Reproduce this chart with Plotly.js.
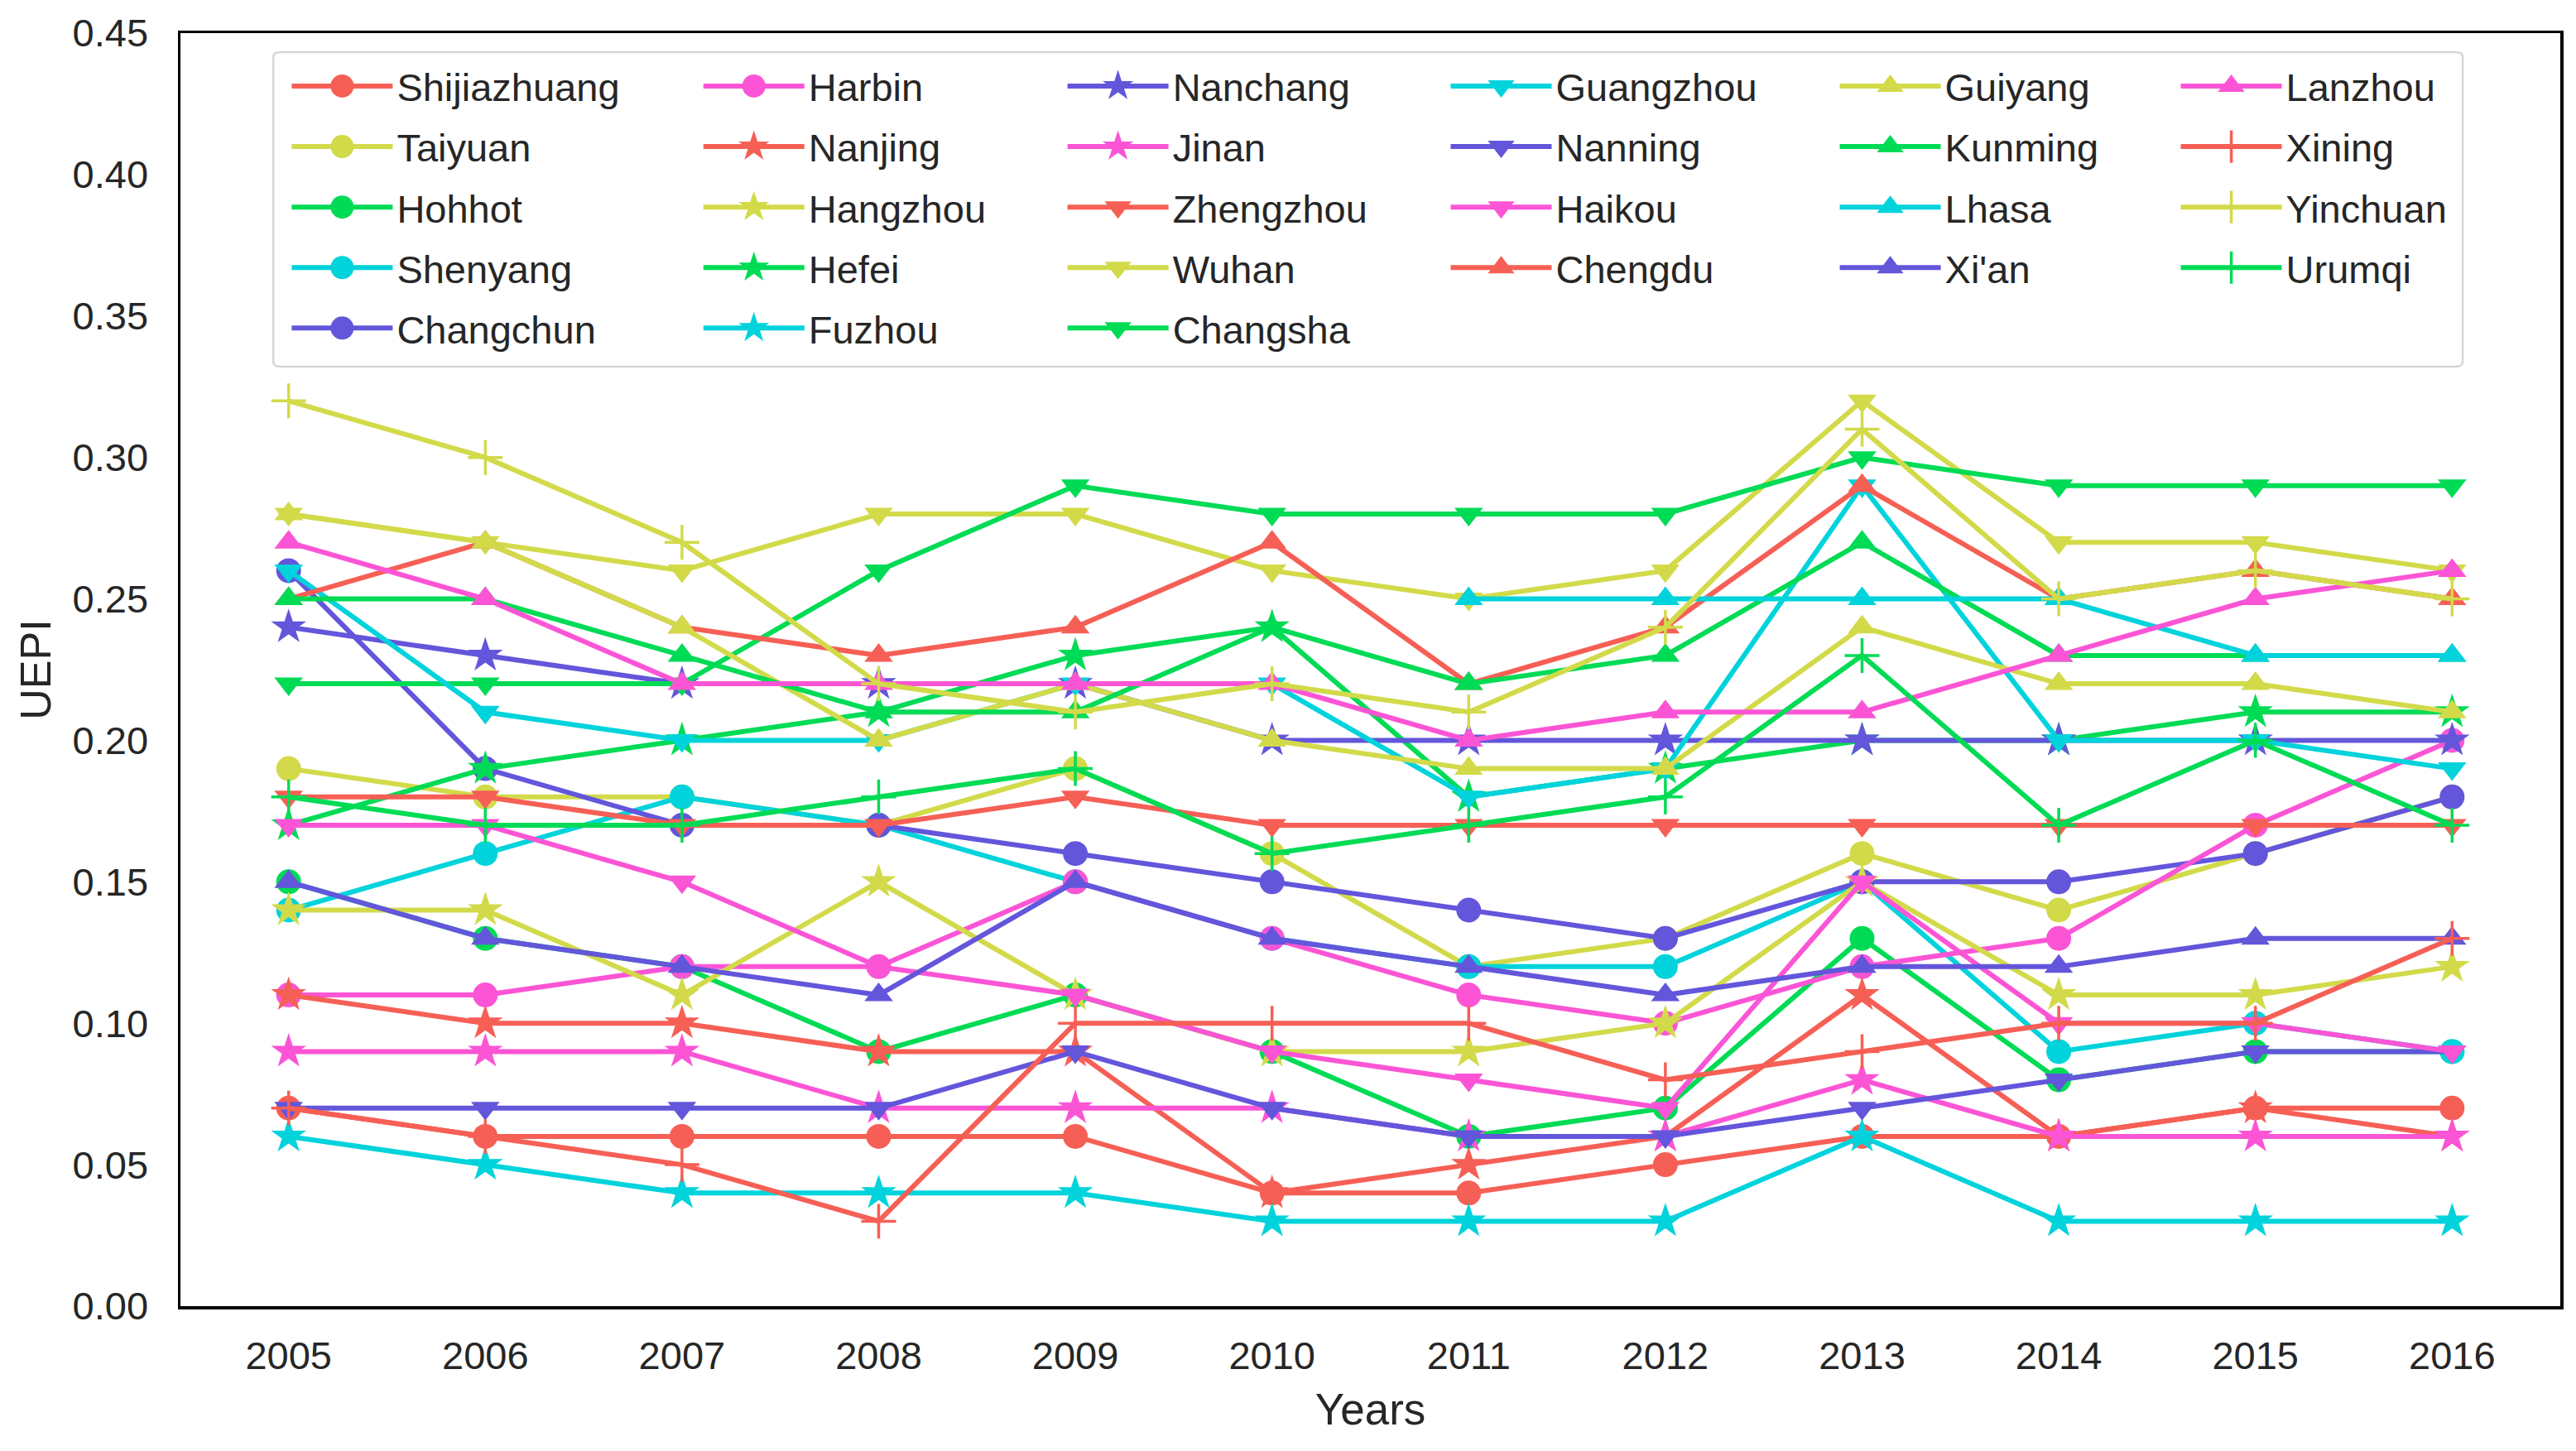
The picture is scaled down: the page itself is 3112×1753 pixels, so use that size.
<!DOCTYPE html>
<html>
<head>
<meta charset="utf-8">
<script src="https://cdn.plot.ly/plotly-3.0.1.min.js"></script>
<style>
  html, body { margin: 0; padding: 0; background: #ffffff; }
  #chart { width: 3112px; height: 1753px; }
</style>
</head>
<body>
<div id="chart"></div>
<script>
// ---- data ----
const years = [2005, 2006, 2007, 2008, 2009, 2010, 2011, 2012, 2013, 2014, 2015, 2016];

const Shijiazhuang = [0.07, 0.06, 0.06, 0.06, 0.06, 0.04, 0.04, 0.05, 0.06, 0.06, 0.07, 0.07];
const Taiyuan      = [0.19, 0.18, 0.18, 0.17, 0.19, 0.16, 0.12, 0.13, 0.16, 0.14, 0.16, 0.18];
const Hohhot       = [0.15, 0.13, 0.12, 0.09, 0.11, 0.09, 0.06, 0.07, 0.13, 0.08, 0.09, 0.09];
const Shenyang     = [0.14, 0.16, 0.18, 0.17, 0.15, 0.13, 0.12, 0.12, 0.15, 0.09, 0.10, 0.09];
const Changchun    = [0.26, 0.19, 0.17, 0.17, 0.16, 0.15, 0.14, 0.13, 0.15, 0.15, 0.16, 0.18];
const Harbin       = [0.11, 0.11, 0.12, 0.12, 0.15, 0.13, 0.11, 0.10, 0.12, 0.13, 0.17, 0.20];
const Nanjing      = [0.11, 0.10, 0.10, 0.09, 0.09, 0.04, 0.05, 0.06, 0.11, 0.06, 0.07, 0.06];
const Hangzhou     = [0.14, 0.14, 0.11, 0.15, 0.11, 0.09, 0.09, 0.10, 0.15, 0.11, 0.11, 0.12];
const Hefei        = [0.17, 0.19, 0.20, 0.21, 0.23, 0.24, 0.18, 0.19, 0.20, 0.20, 0.21, 0.21];
const Fuzhou       = [0.06, 0.05, 0.04, 0.04, 0.04, 0.03, 0.03, 0.03, 0.06, 0.03, 0.03, 0.03];
const Nanchang     = [0.24, 0.23, 0.22, 0.22, 0.22, 0.20, 0.20, 0.20, 0.20, 0.20, 0.20, 0.20];
const Jinan        = [0.09, 0.09, 0.09, 0.07, 0.07, 0.07, 0.06, 0.06, 0.08, 0.06, 0.06, 0.06];
const Zhengzhou    = [0.18, 0.18, 0.17, 0.17, 0.18, 0.17, 0.17, 0.17, 0.17, 0.17, 0.17, 0.17];
const Wuhan        = [0.28, 0.27, 0.26, 0.28, 0.28, 0.26, 0.25, 0.26, 0.32, 0.27, 0.27, 0.26];
const Changsha     = [0.22, 0.22, 0.22, 0.26, 0.29, 0.28, 0.28, 0.28, 0.30, 0.29, 0.29, 0.29];
const Guangzhou    = [0.26, 0.21, 0.20, 0.20, 0.22, 0.22, 0.18, 0.19, 0.29, 0.20, 0.20, 0.19];
const Nanning      = [0.07, 0.07, 0.07, 0.07, 0.09, 0.07, 0.06, 0.06, 0.07, 0.08, 0.09, 0.09];
const Haikou       = [0.17, 0.17, 0.15, 0.12, 0.11, 0.09, 0.08, 0.07, 0.15, 0.10, 0.10, 0.09];
const Chengdu      = [0.25, 0.27, 0.24, 0.23, 0.24, 0.27, 0.22, 0.24, 0.29, 0.25, 0.26, 0.25];
const Guiyang      = [0.28, 0.27, 0.24, 0.20, 0.22, 0.20, 0.19, 0.19, 0.24, 0.22, 0.22, 0.21];
const Kunming      = [0.25, 0.25, 0.23, 0.21, 0.21, 0.24, 0.22, 0.23, 0.27, 0.23, 0.23, 0.23];
const Lhasa        = [null, null, null, null, null, null, 0.25, 0.25, 0.25, 0.25, 0.23, 0.23];
const Xian         = [0.15, 0.13, 0.12, 0.11, 0.15, 0.13, 0.12, 0.11, 0.12, 0.12, 0.13, 0.13];
const Lanzhou      = [0.27, 0.25, 0.22, 0.22, 0.22, 0.22, 0.20, 0.21, 0.21, 0.23, 0.25, 0.26];
const Xining       = [0.07, 0.06, 0.05, 0.03, 0.10, 0.10, 0.10, 0.08, 0.09, 0.10, 0.10, 0.13];
const Yinchuan     = [0.32, 0.30, 0.27, 0.22, 0.21, 0.22, 0.21, 0.24, 0.31, 0.25, 0.26, 0.25];
const Urumqi       = [0.18, 0.17, 0.17, 0.18, 0.19, 0.16, 0.17, 0.18, 0.23, 0.17, 0.20, 0.17];

const cityNames = ["Shijiazhuang", "Taiyuan", "Hohhot", "Shenyang", "Changchun", "Harbin",
  "Nanjing", "Hangzhou", "Hefei", "Fuzhou", "Nanchang", "Jinan",
  "Zhengzhou", "Wuhan", "Changsha", "Guangzhou", "Nanning", "Haikou",
  "Chengdu", "Guiyang", "Kunming", "Lhasa", "Xi'an", "Lanzhou",
  "Xining", "Yinchuan", "Urumqi"];
const cityValues = [Shijiazhuang, Taiyuan, Hohhot, Shenyang, Changchun, Harbin,
  Nanjing, Hangzhou, Hefei, Fuzhou, Nanchang, Jinan,
  Zhengzhou, Wuhan, Changsha, Guangzhou, Nanning, Haikou,
  Chengdu, Guiyang, Kunming, Lhasa, Xian, Lanzhou,
  Xining, Yinchuan, Urumqi];

const yTicks = [0.00, 0.05, 0.10, 0.15, 0.20, 0.25, 0.30, 0.35, 0.40, 0.45];

// ---- styles ----
const palette = ["#f65f55", "#d2da4a", "#00db55", "#00d3db", "#6356db", "#fb55d6"];
const symbols = ["circle", "star", "triangle-down", "triangle-up", "cross-thin"];
const symSize = {"circle": 30, "star": 32, "triangle-down": 30, "triangle-up": 30, "cross-thin": 30};
const textColor = "#262626";
const FONT = "Liberation Sans, Arial, Helvetica, sans-serif";

// legend columns (matplotlib fills column by column, 5 rows)
const legendCols = 6, legendRows = 5;
const colStarts = [0.0450, 0.2180, 0.3710, 0.5320, 0.6955, 0.8388];

const traces = cityNames.map(function (name, i) {
  const col = Math.floor(i / legendRows) < 3 ? Math.floor(i / legendRows)
              : 3 + Math.floor((i - 15) / 4);
  const sym = symbols[Math.floor(i / 6)];
  const color = palette[i % 6];
  const isCross = sym === "cross-thin";
  return {
    type: "scatter",
    mode: "lines+markers",
    x: years,
    y: cityValues[i],
    name: name,
    connectgaps: false,
    legend: col === 0 ? "legend" : "legend" + (col + 1),
    legendgroup: "g" + i,
    line: {color: color, width: 6},
    marker: {
      symbol: sym,
      size: symSize[sym],
      color: color,
      line: isCross ? {color: color, width: 3.5} : {width: 0}
    },
    hoverinfo: "x+y+name"
  };
});

const layout = {
  width: 3112,
  height: 1753,
  paper_bgcolor: "#ffffff",
  plot_bgcolor: "#ffffff",
  margin: {l: 218, r: 19, t: 40, b: 175},
  font: {family: FONT, size: 47, color: textColor},
  showlegend: true,
  xaxis: {
    range: [2004.45, 2016.55],
    tickvals: years,
    ticktext: years.map(String),
    ticks: "",
    showgrid: false,
    zeroline: false,
    showline: true,
    mirror: true,
    linecolor: "#000000",
    linewidth: 3.5,
    tickfont: {family: FONT, size: 47, color: textColor},
    ticklabelstandoff: 16,
    title: {text: "Years", font: {family: FONT, size: 53, color: textColor}, standoff: 22}
  },
  yaxis: {
    range: [0, 0.45],
    tickvals: yTicks,
    ticktext: yTicks.map(function (v) { return v.toFixed(2); }),
    ticks: "",
    showgrid: false,
    zeroline: false,
    showline: true,
    mirror: true,
    linecolor: "#000000",
    linewidth: 3.5,
    tickfont: {family: FONT, size: 47, color: textColor},
    ticklabelstandoff: 26,
    title: {text: "UEPI", font: {family: FONT, size: 52, color: textColor}, standoff: 10}
  },
  shapes: [{
    type: "path",
    xref: "paper", yref: "paper",
    path: "M 0.042,0.985 L 0.956,0.985 Q 0.959,0.985 0.959,0.981 L 0.959,0.742 Q 0.959,0.738 0.956,0.738 L 0.042,0.738 Q 0.039,0.738 0.039,0.742 L 0.039,0.981 Q 0.039,0.985 0.042,0.985 Z",
    line: {color: "#d6d6d6", width: 2.5},
    fillcolor: "rgba(255,255,255,0.8)",
    layer: "below"
  }]
};

for (let c = 0; c < legendCols; c++) {
  const key = c === 0 ? "legend" : "legend" + (c + 1);
  layout[key] = {
    x: colStarts[c],
    xanchor: "left",
    y: 0.9825,
    yanchor: "top",
    orientation: "v",
    bgcolor: "rgba(0,0,0,0)",
    borderwidth: 0,
    font: {family: FONT, size: 47, color: textColor},
    itemwidth: 122,
    tracegroupgap: 9,
    traceorder: "grouped"
  };
}

Plotly.newPlot("chart", traces, layout, {staticPlot: true, displayModeBar: false}).then(function (gd) {
  // enlarge legend symbols to the size of the plotted markers (Plotly caps them at 16px)
  gd.querySelectorAll(".legendpoints path.scatterpts").forEach(function (p) {
    const t = p.getAttribute("transform") || "";
    p.setAttribute("transform", t + " scale(1.75)");
    p.style.vectorEffect = "non-scaling-stroke";
  });
});
</script>
</body>
</html>
